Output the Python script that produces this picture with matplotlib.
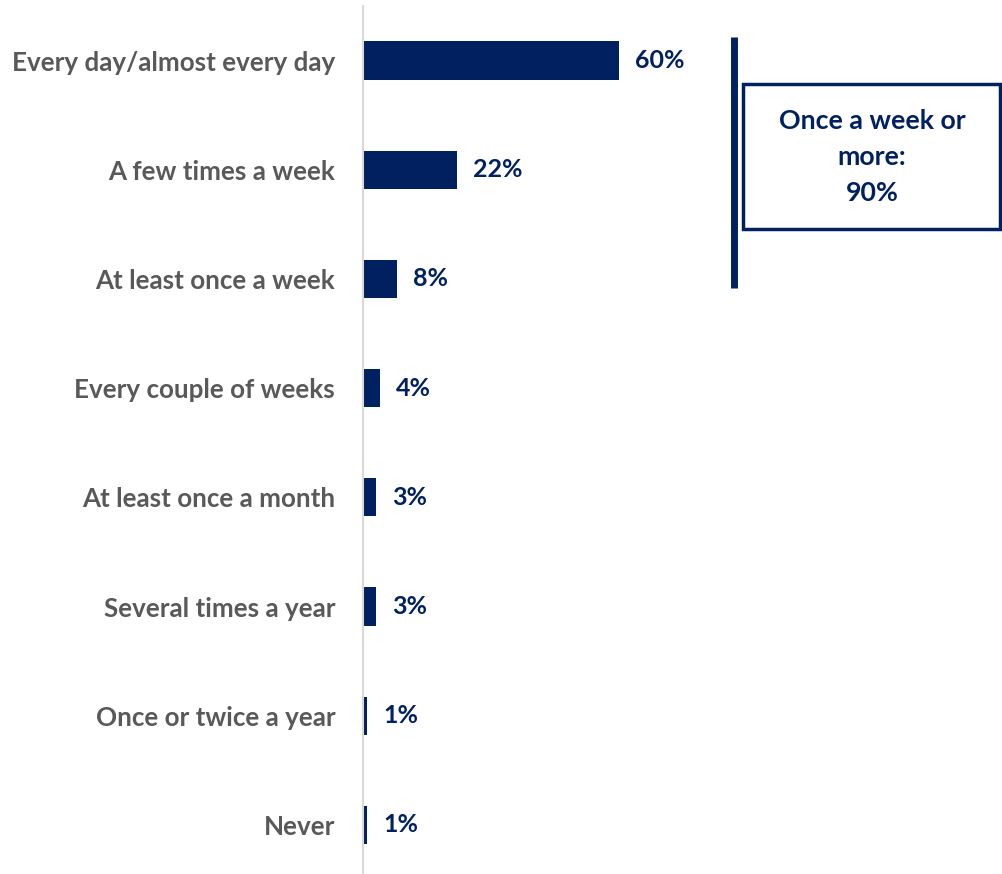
import matplotlib.pyplot as plt
from matplotlib.patches import Rectangle

categories = [
    "Every day/almost every day",
    "A few times a week",
    "At least once a week",
    "Every couple of weeks",
    "At least once a month",
    "Several times a year",
    "Once or twice a year",
    "Never",
]
values = [60, 22, 8, 4, 3, 3, 1, 1]
summary_text = "Once a week or\nmore:\n90%"

navy = "#002060"
grey = "#595959"
plt.rcParams["font.family"] = ["Lato", "DejaVu Sans"]

W, H = 1003, 874
fig = plt.figure(figsize=(W / 100, H / 100), dpi=100)
ax = fig.add_axes([363 / W, 0, 640 / W, 868 / H])

y = list(range(len(categories)))
ax.barh(y, values, height=0.35, color=navy)
ax.set_xlim(0, 150)
ax.set_ylim(7.45, -0.5)

for yi, v in zip(y, values):
    ax.text(v + 3.8, yi, f"{v}%", va="center", ha="left",
            fontsize=18, fontweight="bold", color=navy)

ax.set_yticks(y)
ax.set_yticklabels(categories, fontsize=18.7, fontweight="bold", color=grey)
ax.tick_params(axis="y", length=0, pad=20)
ax.set_xticks([])
for side in ["top", "right", "bottom"]:
    ax.spines[side].set_visible(False)
ax.spines["left"].set_color("#d9d9d9")
ax.spines["left"].set_linewidth(1.5)

# summary bracket and box on the right
fig.add_artist(plt.Line2D([734 / W, 734 / W], [1 - 37 / H, 1 - 288 / H],
                          color=navy, linewidth=5, solid_capstyle="butt"))
fig.add_artist(Rectangle((743 / W, 1 - 229 / H), 257 / W, 145 / H,
                         fill=False, edgecolor=navy, linewidth=2.5,
                         transform=fig.transFigure))
fig.text(872 / W, 1 - 157 / H, summary_text, ha="center", va="center",
         fontsize=19.3, fontweight="bold", color=navy, linespacing=1.6)

fig.savefig("out.png", dpi=100)
